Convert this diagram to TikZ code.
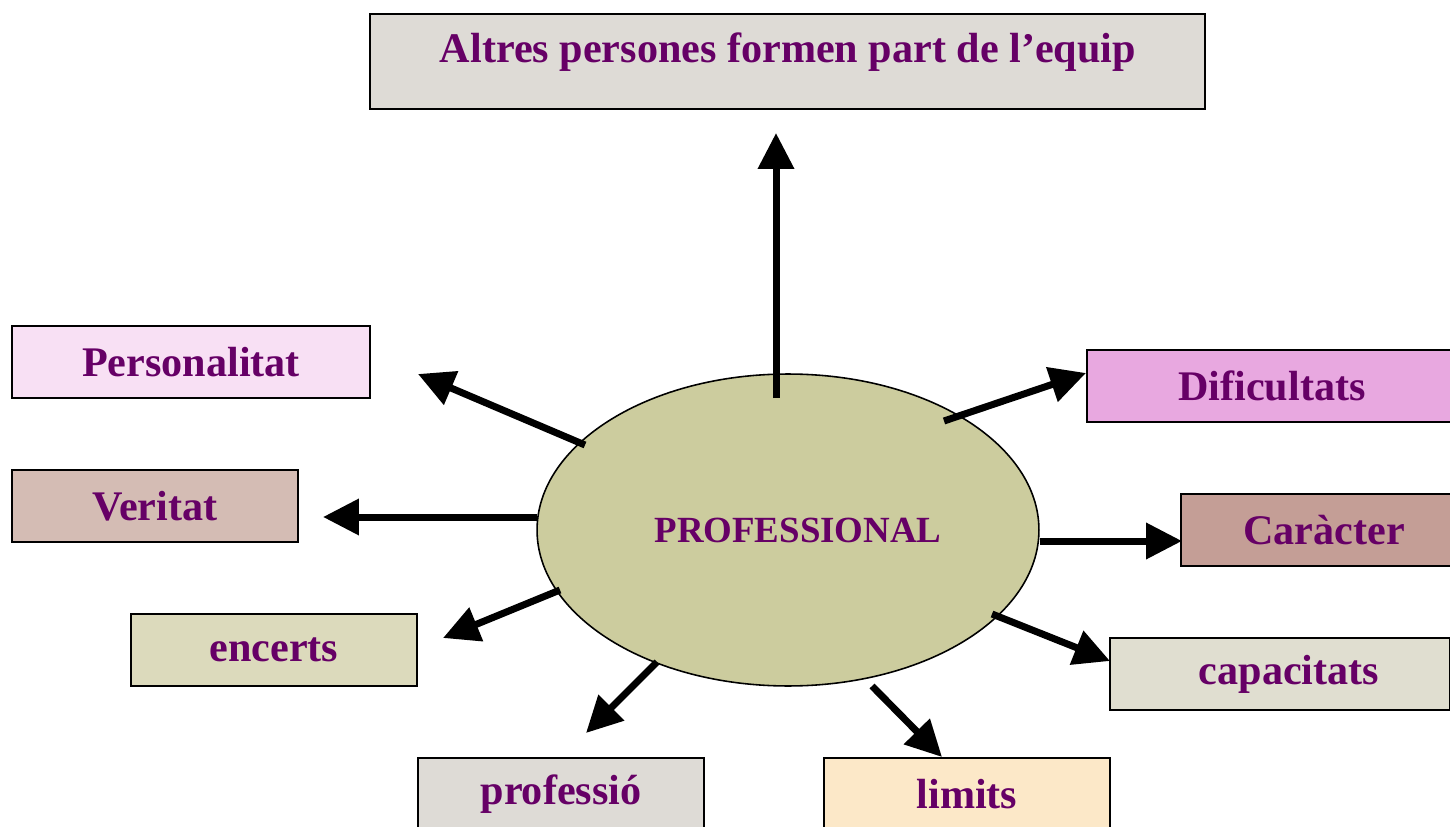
\documentclass[tikz,border=0pt]{standalone}
\usepackage{fontspec}
\setmainfont{Liberation Serif}
\usetikzlibrary{arrows.meta,shapes.geometric}
\definecolor{txtc}{HTML}{660066}
\definecolor{cTop}{HTML}{DEDBD6}
\definecolor{cPers}{HTML}{F8E0F4}
\definecolor{cVer}{HTML}{D4BCB4}
\definecolor{cEnc}{HTML}{DCDABC}
\definecolor{cProf}{HTML}{DEDBD6}
\definecolor{cLim}{HTML}{FCE8C8}
\definecolor{cCap}{HTML}{E0DED0}
\definecolor{cCar}{HTML}{C49E96}
\definecolor{cDif}{HTML}{E8A8E0}
\definecolor{cEll}{HTML}{CCCC9E}
\tikzset{
  box/.style={draw=black, line width=1.4pt, inner sep=0pt, text=txtc,
    font=\fontsize{24}{28}\selectfont\bfseries},
  lbl/.style={inner sep=0pt, text=txtc, font=\fontsize{24}{28}\selectfont\bfseries},
  arr/.style={line width=0.14cm, -{Triangle[length=0.72cm,width=0.7cm]}},
}
\begin{document}
\begin{tikzpicture}[x=0.02cm,y=-0.02cm]
\useasboundingbox (0,0) rectangle (1450,827);
% boxes
\node[box, fill=cTop, minimum width=16.7cm, minimum height=1.9cm] (top) at (787.5,61.5) {};
\node[lbl] (toptxt) at (788,52) {Altres persones formen part de l’equip};
\node[box, fill=cPers, minimum width=7.16cm, minimum height=1.44cm] (pers) at (191,362) {Personalitat};
\node[box, fill=cVer, minimum width=5.72cm, minimum height=1.44cm] (ver) at (155,506) {Veritat};
\node[box, fill=cEnc, minimum width=5.72cm, minimum height=1.44cm] (enc) at (274,650) {\raisebox{-2pt}{encerts}};
\node[box, fill=cProf, minimum width=5.72cm, minimum height=1.44cm] (prof) at (561,794) {professió};
\node[box, fill=cLim, minimum width=5.72cm, minimum height=1.44cm] (lim) at (967,794) {limits};
\node[box, fill=cCap, minimum width=6.8cm, minimum height=1.44cm] (cap) at (1280,674) {\hspace*{0.36cm}capacitats};
\node[box, fill=cCar, minimum width=5.72cm, minimum height=1.44cm] (car) at (1324,530) {Caràcter};
\node[box, fill=cDif, minimum width=7.4cm, minimum height=1.44cm] (dif) at (1272,386) {Dificultats};
% ellipse
\node[ellipse, draw=black, line width=0.9pt, fill=cEll, minimum width=10.04cm, minimum height=6.24cm, inner sep=0pt,
  text=txtc, font=\fontsize{21}{24}\selectfont\bfseries] (ell) at (788,530) {\hspace*{0.4cm}PROFESSIONAL};
% free arrow ends
\coordinate (eTop) at (776,133);
\coordinate (ePers) at (418,374);
\coordinate (eVer) at (323,517);
\coordinate (eEnc) at (443,638);
\coordinate (eProf) at (586,733);
\coordinate (eLim) at (942,757);
\coordinate (eCap) at (1110,661);
\coordinate (eCar) at (1182,541);
\coordinate (eDif) at (1086,373);
% start points on ellipse
\coordinate (sTop) at (776,398);
\coordinate (sPers) at (585,445);
\coordinate (sVer) at (537,517);
\coordinate (sEnc) at (560,590);
\coordinate (sProf) at (657,662);
\coordinate (sLim) at (872,686);
\coordinate (sCap) at (992,614);
\coordinate (sCar) at (1040,541);
\coordinate (sDif) at (944,421);
% arrows
\draw[arr] (sTop) -- (eTop);
\draw[arr] (sPers) -- (ePers);
\draw[arr] (sVer) -- (eVer);
\draw[arr] (sEnc) -- (eEnc);
\draw[arr] (sProf) -- (eProf);
\draw[arr] (sLim) -- (eLim);
\draw[arr] (sCap) -- (eCap);
\draw[arr] (sCar) -- (eCar);
\draw[arr] (sDif) -- (eDif);
\end{tikzpicture}
\end{document}
